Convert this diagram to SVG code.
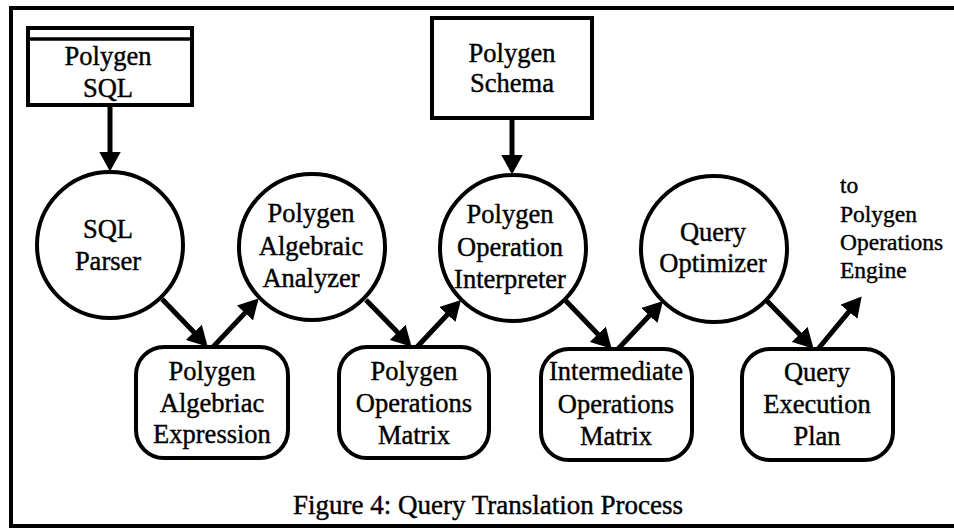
<svg xmlns="http://www.w3.org/2000/svg" width="954" height="529" viewBox="0 0 954 529">
  <style>
    .shape { fill: #ffffff; stroke: #000000; stroke-width: 4; }
    text { font-family: "Liberation Serif", "Times New Roman", serif; fill: #000000; stroke: #000000; stroke-width: 0.4; }
    .label { font-size: 26.5px; text-anchor: middle; }
    .note { font-size: 23.5px; }
    .caption { font-size: 27px; }
    .flow { stroke: #000000; stroke-width: 5; fill: none; marker-end: url(#head); }
  </style>
  <defs>
    <marker id="head" viewBox="0 0 20 22" refX="0.5" refY="11" markerWidth="20" markerHeight="22" markerUnits="userSpaceOnUse" orient="auto">
      <path d="M0,0 L20,11 L0,22 Z" fill="#000000"/>
    </marker>
  </defs>

  <rect width="954" height="529" fill="#ffffff"/>

  <!-- frame: top, left and bottom rules -->
  <path d="M954,8 H11 V526 H954" fill="none" stroke="#000000" stroke-width="4"/>

  <!-- data stores -->
  <g id="polygen-sql">
    <rect class="shape" x="28" y="28" width="164" height="77"/>
    <line x1="28" y1="39" x2="192" y2="39" stroke="#000000" stroke-width="3.5"/>
    <text class="label" x="108" y="65">Polygen</text>
    <text class="label" x="108" y="97">SQL</text>
  </g>

  <g id="polygen-schema">
    <rect class="shape" x="432" y="18" width="160" height="100"/>
    <text class="label" x="512" y="62">Polygen</text>
    <text class="label" x="512" y="92">Schema</text>
  </g>

  <!-- processes -->
  <g id="sql-parser">
    <circle class="shape" cx="110" cy="245" r="73"/>
    <text class="label" x="108" y="238">SQL</text>
    <text class="label" x="108" y="270">Parser</text>
  </g>

  <g id="algebraic-analyzer">
    <circle class="shape" cx="312" cy="247" r="73"/>
    <text class="label" x="311" y="222">Polygen</text>
    <text class="label" x="311" y="255">Algebraic</text>
    <text class="label" x="311" y="287">Analyzer</text>
  </g>

  <g id="operation-interpreter">
    <circle class="shape" cx="513" cy="248" r="73"/>
    <text class="label" x="510" y="223">Polygen</text>
    <text class="label" x="510" y="256">Operation</text>
    <text class="label" x="510" y="288">Interpreter</text>
  </g>

  <g id="query-optimizer">
    <circle class="shape" cx="714" cy="249" r="73"/>
    <text class="label" x="713" y="241">Query</text>
    <text class="label" x="713" y="272">Optimizer</text>
  </g>

  <!-- intermediate results -->
  <g id="algebraic-expression">
    <rect class="shape" x="136" y="347" width="152" height="111" rx="28" ry="28"/>
    <text class="label" x="212" y="380">Polygen</text>
    <text class="label" x="212" y="412">Algebriac</text>
    <text class="label" x="212" y="443">Expression</text>
  </g>

  <g id="operations-matrix">
    <rect class="shape" x="339" y="347" width="150" height="111" rx="28" ry="28"/>
    <text class="label" x="414" y="380">Polygen</text>
    <text class="label" x="414" y="412">Operations</text>
    <text class="label" x="414" y="444">Matrix</text>
  </g>

  <g id="intermediate-matrix">
    <rect class="shape" x="541" y="349" width="151" height="111" rx="28" ry="28"/>
    <text class="label" x="616" y="380">Intermediate</text>
    <text class="label" x="616" y="413">Operations</text>
    <text class="label" x="616" y="445">Matrix</text>
  </g>

  <g id="execution-plan">
    <rect class="shape" x="742" y="349" width="151" height="111" rx="28" ry="28"/>
    <text class="label" x="817" y="381">Query</text>
    <text class="label" x="817" y="413">Execution</text>
    <text class="label" x="817" y="445">Plan</text>
  </g>

  <g id="operations-engine">
    <text class="note" x="840" y="193">to</text>
    <text class="note" x="840" y="222">Polygen</text>
    <text class="note" x="840" y="250">Operations</text>
    <text class="note" x="840" y="278">Engine</text>
  </g>

  <!-- connectors: each line stops at the base of its arrowhead -->
  <g id="connectors">
    <line class="flow" x1="110" y1="105" x2="110" y2="152"/>
    <line class="flow" x1="512" y1="118" x2="512" y2="155"/>
    <line class="flow" x1="162" y1="299" x2="194.2" y2="332.6"/>
    <line class="flow" x1="213" y1="347" x2="245.3" y2="312.6"/>
    <line class="flow" x1="366" y1="300" x2="398" y2="332.7"/>
    <line class="flow" x1="417" y1="347" x2="447.7" y2="314.2"/>
    <line class="flow" x1="564.6" y1="299.6" x2="598.2" y2="334.6"/>
    <line class="flow" x1="618" y1="349" x2="649.7" y2="315.2"/>
    <line class="flow" x1="766.6" y1="300.6" x2="800" y2="334.7"/>
    <line class="flow" x1="818" y1="349" x2="849.2" y2="311.4"/>
  </g>

  <text class="caption" x="293" y="514">Figure 4: Query Translation Process</text>
</svg>
